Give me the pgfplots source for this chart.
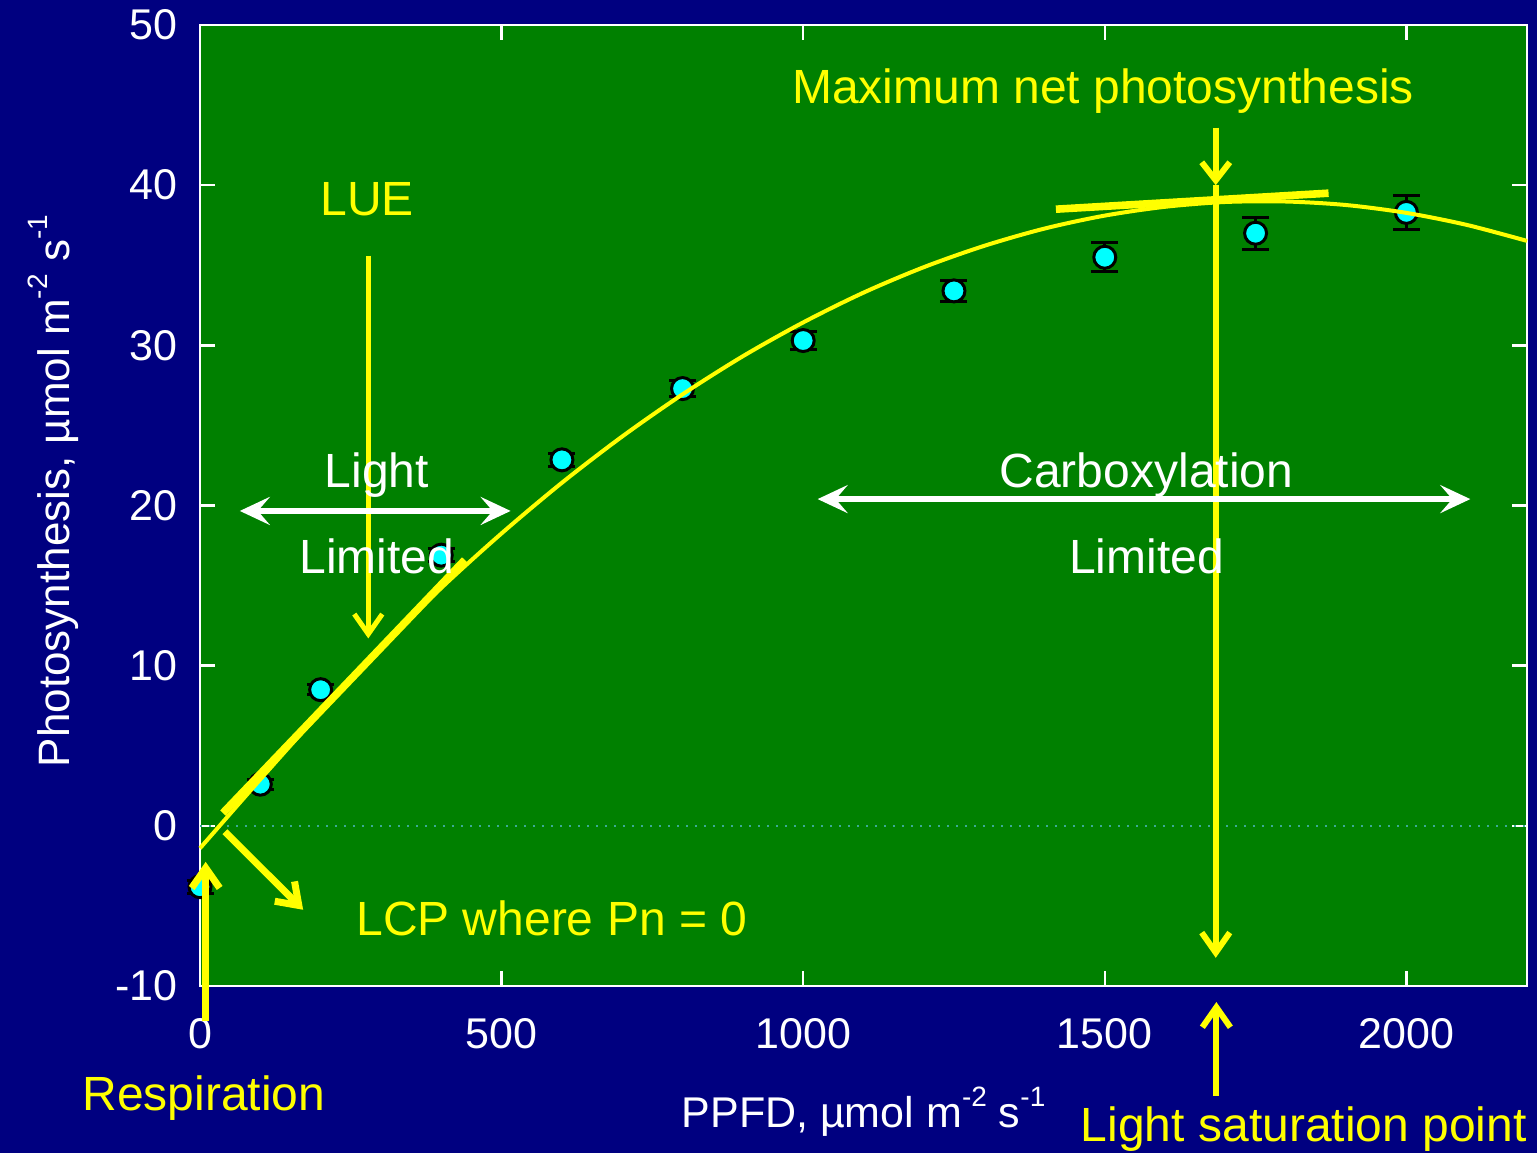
\documentclass[border=0pt]{standalone}
\usepackage{fontspec}
\setmainfont{Liberation Sans}
\usepackage{pgfplots}
\pgfplotsset{compat=1.18}
\usetikzlibrary{arrows.meta}
\definecolor{navy}{RGB}{0,0,128}
\definecolor{plotgreen}{RGB}{0,128,0}
\definecolor{yel}{RGB}{255,255,0}
\definecolor{cyn}{RGB}{0,255,255}
\definecolor{dotc}{RGB}{60,170,150}
\newcommand\sups[1]{\raisebox{0.5em}{\fontsize{14}{16}\selectfont #1}}
\pgfplotsset{common/.style={
  at={(100pt,83.5pt)}, anchor=south west,
  scale only axis, width=663.5pt, height=480.5pt,
  xmin=0, xmax=2200, ymin=-10, ymax=50, clip=false}}
\begin{document}
\begin{tikzpicture}[x=1pt,y=1pt]
\fill[navy] (0,0) rectangle (768.5,576.5);
\begin{axis}[common,
  axis background/.style={fill=plotgreen},
  axis line style={white, line width=1.2pt},
  tick style={white, line width=1.2pt},
  major tick length=7.5pt, tick align=inside,
  xtick pos=both, ytick pos=both,
  xticklabel pos=lower, yticklabel pos=left,
  xtick={0,500,1000,1500,2000}, ytick={-10,0,10,20,30,40,50},
  xticklabels={0,500,1000,1500,2000},
  yticklabels={-10,0,10,20,30,40,50},
  ticklabel style={font=\fontsize{21.5}{25}\selectfont, text=white, inner sep=0pt},
  xticklabel style={anchor=base, yshift=-31pt},
  yticklabel style={anchor=east, xshift=-11pt},
]
% zero line
\addplot[dotc, line width=0.7pt, dash pattern=on 0.8pt off 3.7pt] coordinates {(0,0) (2200,0)};
% data
\addplot[only marks, mark=*, mark size=5.5pt,
  mark options={fill=cyn, draw=black, line width=1.5pt},
  error bars/.cd, y dir=both, y explicit,
  error bar style={black, line width=1.5pt},
  error mark options={rotate=90, mark size=6.75pt, black, line width=1.5pt}]
coordinates {
 (0,-3.8) +- (0,0.4)
 (100,2.6) +- (0,0.3)
 (200,8.5) +- (0,0.3)
 (400,16.9) +- (0,0.4)
 (600,22.85) +- (0,0.4)
 (800,27.3) +- (0,0.5)
 (1000,30.3) +- (0,0.55)
 (1250,33.4) +- (0,0.65)
 (1500,35.5) +- (0,0.9)
 (1750,37.0) +- (0,1.0)
 (2000,38.3) +- (0,1.05)
};
\end{axis}
\begin{axis}[common, hide axis]
% fitted curve
\addplot[yel, line width=2pt, smooth] coordinates {
 (0,-1.4) (100,2.9) (200,7.1) (300,11.1) (400,14.85) (500,18.26)
 (600,21.42) (700,24.31) (800,26.94) (900,29.32) (1000,31.43)
 (1100,33.29) (1200,34.88) (1300,36.21) (1400,37.29) (1500,38.10)
 (1600,38.65) (1700,38.95) (1800,38.98) (1900,38.76) (2000,38.27)
 (2100,37.52) (2200,36.52)
};
% tangent lines
\addplot[yel, line width=3.8pt] coordinates {(38,0.8) (439,16.6)};
\addplot[yel, line width=3.8pt] coordinates {(1419,38.5) (1871,39.5)};
% yellow arrows
\draw[yel, line width=2.5pt, -{Straight Barb[length=10pt,width=14pt]}] (axis cs:279,35.6) -- (axis cs:279,11.7);
\draw[yel, line width=3pt, -{Straight Barb[length=9pt,width=14pt]}] (axis cs:1684,43.6) -- (axis cs:1684,40.0);
\draw[yel, line width=3pt, -{Straight Barb[length=10pt,width=14pt]}] (axis cs:1684,40.0) -- (axis cs:1684,-8.24);
\draw[yel, line width=3pt, -{Straight Barb[length=10pt,width=14pt]}] (axis cs:1685,-16.85) -- (axis cs:1685,-11.0);
\draw[yel, line width=3.5pt, -{Straight Barb[length=10pt,width=14pt]}] (axis cs:9.4,-12.2) -- (axis cs:9.4,-2.25);
\draw[yel, line width=3.5pt, -{Straight Barb[length=10pt,width=14pt]}] (axis cs:41.4,-0.37) -- (axis cs:171,-5.24);
% white double arrows
\draw[white, line width=3pt, {Stealth[length=15pt,width=14pt,inset=6pt]}-{Stealth[length=15pt,width=14pt,inset=6pt]}] (axis cs:66,19.66) -- (axis cs:515,19.66);
\draw[white, line width=3pt, {Stealth[length=15pt,width=14pt,inset=6pt]}-{Stealth[length=15pt,width=14pt,inset=6pt]}] (axis cs:1024,20.4) -- (axis cs:2106,20.4);
% texts
\tikzset{ann/.style={font=\fontsize{24}{28}\selectfont, inner sep=0pt}}
\node[ann, text=yel, anchor=base] at (axis cs:1497,45.07) {Maximum net photosynthesis};
\node[ann, text=yel, anchor=base] at (axis cs:277,38.08) {LUE};
\node[ann, text=white, anchor=base] at (axis cs:293,21.1) {Light};
\node[ann, text=white, anchor=base] at (axis cs:293,15.73) {Limited};
\node[ann, text=white, anchor=base] at (axis cs:1569,21.1) {Carboxylation};
\node[ann, text=white, anchor=base] at (axis cs:1569,15.73) {Limited};
\node[ann, text=yel, anchor=base west] at (axis cs:258.5,-6.87) {LCP where Pn = 0};
\node[ann, text=yel, anchor=base] at (axis cs:6.5,-17.8) {Respiration};
\node[ann, text=yel, anchor=base east] at (axis cs:2200,-19.7) {Light saturation point};
\node[font=\fontsize{21.5}{25}\selectfont, text=white, inner sep=0pt, anchor=base] at (axis cs:1100,-18.85) {PPFD, µmol m\sups{-2} s\sups{-1}};
\node[font=\fontsize{22}{26}\selectfont, text=white, inner sep=0pt, anchor=base, rotate=90] at (axis cs:-217,20.9) {Photosynthesis, µmol m\sups{-2} s\sups{-1}};
\end{axis}
\pgfresetboundingbox
\path[use as bounding box] (0,0) rectangle (768.5,576.5);
\end{tikzpicture}
\end{document}
